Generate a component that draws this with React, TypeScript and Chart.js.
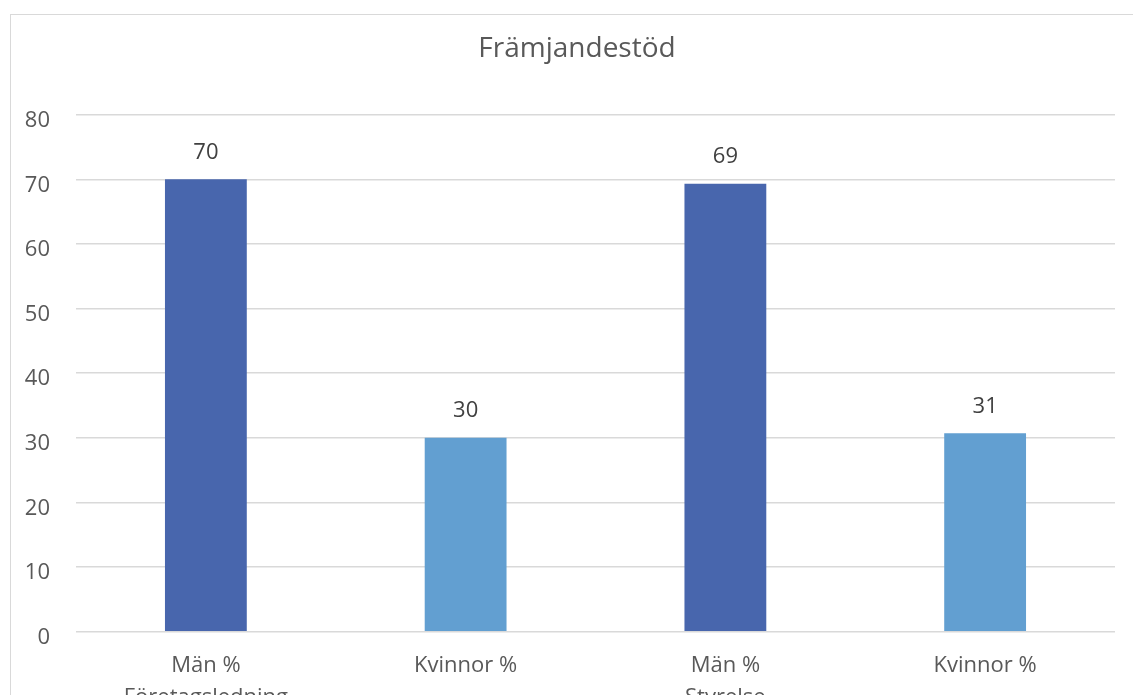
import React, { useEffect, useRef } from "react";
import { Chart, registerables } from "chart.js";

Chart.register(...registerables);

const TITLE = "Främjandestöd";
const CATEGORIES: string[][] = [
  ["Män %", "Företagsledning"],
  ["Kvinnor %", ""],
  ["Män %", "Styrelse"],
  ["Kvinnor %", ""],
];
const VALUES = [70, 30, 69.3, 30.7];
const BAR_COLORS = ["#4866AD", "#629FD1", "#4866AD", "#629FD1"];
const Y_MIN = 0;
const Y_MAX = 80;
const Y_STEP = 10;

const FONT = "'Open Sans', Lato, sans-serif";

const valueLabels = {
  id: "valueLabels",
  afterDatasetsDraw(chart: any) {
    const ctx = chart.ctx;
    const meta = chart.getDatasetMeta(0);
    ctx.save();
    ctx.font = `22px ${FONT}`;
    ctx.fillStyle = "#404040";
    ctx.textAlign = "center";
    ctx.textBaseline = "middle";
    meta.data.forEach((el: any, i: number) => {
      ctx.fillText(String(Math.round(VALUES[i])), el.x, el.y - 27);
    });
    ctx.restore();
  },
};

export default function App() {
  const ref = useRef<HTMLCanvasElement | null>(null);

  useEffect(() => {
    if (!ref.current) return;
    const chart = new Chart(ref.current, {
      type: "bar",
      data: {
        labels: CATEGORIES,
        datasets: [
          {
            data: VALUES,
            backgroundColor: BAR_COLORS,
            borderWidth: 0,
            barPercentage: 0.315,
            categoryPercentage: 1,
          },
        ],
      },
      options: {
        responsive: false,
        animation: false,
        devicePixelRatio: 1,
        layout: { padding: { left: 0, right: 8, top: 0, bottom: 0 } },
        plugins: {
          legend: { display: false },
          tooltip: { enabled: false },
          title: {
            display: true,
            text: TITLE,
            color: "#595959",
            font: { family: FONT, size: 28, weight: "normal", lineHeight: 1.2 },
            padding: { top: 17, bottom: 49.1 },
          },
        },
        scales: {
          x: {
            grid: { display: false, drawTicks: false },
            border: { display: false },
            ticks: {
              color: "#595959",
              font: { family: FONT, size: 22, lineHeight: 1.45 },
              padding: 18,
              maxRotation: 0,
              autoSkip: false,
            },
            afterFit(scale: any) {
              scale.height = 103.3;
            },
          },
          y: {
            min: Y_MIN,
            max: Y_MAX,
            grid: { color: "#d9d9d9", lineWidth: 1.5, drawTicks: false },
            border: { display: false },
            ticks: {
              stepSize: Y_STEP,
              color: "#595959",
              font: { family: FONT, size: 22 },
              padding: 26,
              labelOffset: 6,
            },
            afterFit(scale: any) {
              scale.width = 65;
            },
          },
          yRight: {
            type: "linear",
            position: "right",
            display: true,
            grid: { display: false, drawTicks: false },
            border: { display: false },
            ticks: { display: false },
            afterFit(scale: any) {
              scale.width = 28;
            },
          },
        },
      },
      plugins: [valueLabels],
    });
    return () => chart.destroy();
  }, []);

  return (
    <div
      style={{
        position: "fixed",
        left: 10,
        top: 14,
        width: 1140,
        height: 720,
        border: "1px solid #d9d9d9",
        background: "#ffffff",
        overflow: "hidden",
      }}
    >
      <canvas ref={ref} width={1140} height={720} style={{ display: "block" }} />
    </div>
  );
}
